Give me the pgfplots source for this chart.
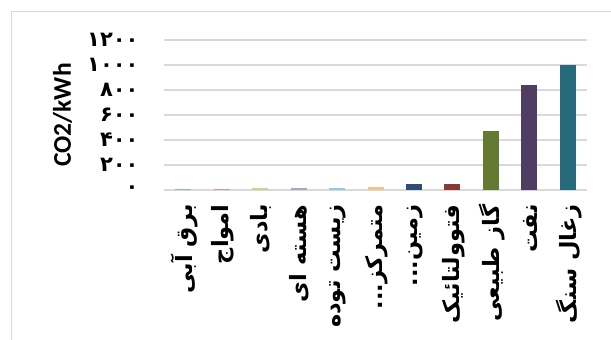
\documentclass[border=0pt]{standalone}
\usepackage{fontspec}
\usepackage{pgfplots}
\pgfplotsset{compat=1.18}
\TeXXeTstate=1
\newfontfamily\arabicfont[Script=Arabic]{DejaVu Sans}
\newfontfamily\labelfont{Carlito}
\definecolor{gridgray}{HTML}{D9D9D9}
\definecolor{cHydro}{HTML}{95B3D7}
\definecolor{cWave}{HTML}{D99694}
\definecolor{cWind}{HTML}{C3D69B}
\definecolor{cNuc}{HTML}{B3A2C7}
\definecolor{cBio}{HTML}{92CDDC}
\definecolor{cCsp}{HTML}{FAC08F}
\definecolor{cGeo}{HTML}{2C4D75}
\definecolor{cPv}{HTML}{8C3836}
\definecolor{cGas}{HTML}{657A31}
\definecolor{cOil}{HTML}{4F3D63}
\definecolor{cCoal}{HTML}{276A7C}
\begin{document}
\begin{tikzpicture}
\useasboundingbox (0pt,0pt) rectangle (611pt,340pt);
\draw[gridgray, line width=1.3pt] (11.5pt,0pt) -- (11.5pt,328.5pt) -- (611pt,328.5pt);
\begin{axis}[
  at={(164pt,150pt)}, anchor=south west,
  scale only axis, width=423pt, height=150pt,
  xmin=-0.5, xmax=10.5, ymin=0, ymax=1200,
  axis line style={draw=none},
  ymajorgrids, grid style={gridgray, line width=1.1pt},
  ytick={0,200,400,600,800,1000,1200},
  yticklabels={۰,۲۰۰,۴۰۰,۶۰۰,۸۰۰,۱۰۰۰,۱۲۰۰},
  yticklabel style={font=\arabicfont\bfseries\fontsize{21}{23}\selectfont, anchor=east, xshift=-22pt},
  xtick={0,1,2,3,4,5,6,7,8,9,10},
  xticklabels={
    {\beginR برق آبی\endR},
    {\beginR امواج\endR},
    {\beginR بادی\endR},
    {\beginR هسته ای\endR},
    {\beginR زیست توده\endR},
    {\beginR متمرکز.{}.{}.\endR},
    {\beginR زمین.{}.{}.\endR},
    {\beginR فتوولتائیک\endR},
    {\beginR گاز طبیعی\endR},
    {\beginR نفت\endR},
    {\beginR زغال سنگ\endR}},
  xticklabel style={font=\arabicfont\bfseries\fontsize{22.5}{25}\selectfont, yshift=-11pt, xshift=1pt, rotate=90, anchor=east},
  major tick length=0pt, tick style={draw=none},
  ylabel={CO2/kWh},
  ylabel style={font=\labelfont\bfseries\fontsize{25.5}{28}\selectfont, at={(axis description cs:-0.24,0.5)}, anchor=center},
  ybar, bar width=16pt, bar shift=0pt,
  every axis plot/.append style={draw=none},
]
\addplot[fill=cHydro] coordinates {(0,4)};
\addplot[fill=cWave] coordinates {(1,8)};
\addplot[fill=cWind] coordinates {(2,12)};
\addplot[fill=cNuc] coordinates {(3,16)};
\addplot[fill=cBio] coordinates {(4,18)};
\addplot[fill=cCsp] coordinates {(5,22)};
\addplot[fill=cGeo] coordinates {(6,45)};
\addplot[fill=cPv] coordinates {(7,48)};
\addplot[fill=cGas] coordinates {(8,470)};
\addplot[fill=cOil] coordinates {(9,843)};
\addplot[fill=cCoal] coordinates {(10,1000)};
\end{axis}
\end{tikzpicture}
\end{document}
